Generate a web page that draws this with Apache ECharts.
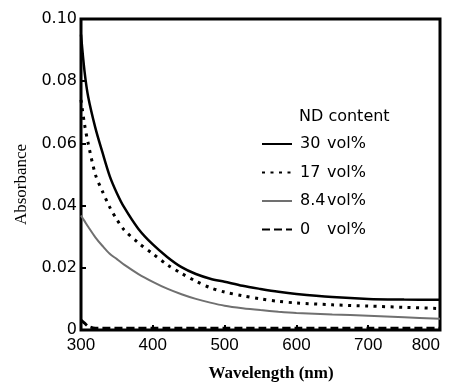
<!DOCTYPE html>
<html>
<head>
<meta charset="utf-8">
<script src="https://cdn.jsdelivr.net/npm/echarts@6/dist/echarts.min.js"></script>
<style>
  html, body { margin: 0; padding: 0; background: #fff; }
  #main { width: 449px; height: 387px; }
</style>
</head>
<body>
<div id="main"></div>
<script>
// wavelength (nm) sample points, shared by all curves
const wavelength = [300, 305, 310, 320, 330, 340, 350, 360, 380, 400, 420, 440, 460, 480, 500, 525, 550, 575, 600, 650, 700, 750, 800];

// absorbance
const nd30 = [0.095, 0.083, 0.075, 0.065, 0.057, 0.0495, 0.044, 0.0395, 0.0325, 0.0275, 0.0235, 0.0202, 0.018, 0.0165, 0.0155, 0.0142, 0.0132, 0.0123, 0.0116, 0.0106, 0.01, 0.0098, 0.0097];
const nd17 = [0.074, 0.066, 0.06, 0.05, 0.0445, 0.0395, 0.0355, 0.0322, 0.028, 0.0245, 0.021, 0.0182, 0.0157, 0.0136, 0.0122, 0.011, 0.01, 0.0092, 0.0087, 0.0081, 0.0077, 0.0073, 0.0069];
const nd84 = [0.0368, 0.035, 0.0332, 0.0298, 0.027, 0.0245, 0.0228, 0.021, 0.018, 0.0155, 0.0133, 0.0115, 0.01, 0.0088, 0.0078, 0.007, 0.0064, 0.0059, 0.0055, 0.005, 0.0046, 0.0041, 0.0036];
const nd0 = [0.0032, 0.0022, 0.0012, 0.0006, 0.0006, 0.0006, 0.0006, 0.0006, 0.0006, 0.0006, 0.0006, 0.0006, 0.0006, 0.0006, 0.0006, 0.0006, 0.0006, 0.0006, 0.0006, 0.0006, 0.0006, 0.0006, 0.0006];

const seriesNames = ["30 vol%", "17 vol%", "8.4vol%", "0   vol%"];
const legendNum = ["30", "17", "8.4", "0"];
const xTicks = [300, 400, 500, 600, 700, 800];

const pairs = (ys) => wavelength.map((x, i) => [x, ys[i]]);

const myChart = echarts.init(document.getElementById("main"));

const mkSeries = (name, ys, color, width, type) => ({
   name: name,
   type: "line",
   smooth: 0.3,
   symbol: "none",
   lineStyle: { color: color, width: width, type: type },
   itemStyle: { color: color },
   data: pairs(ys),
});

const option = {
   animation: false,
   backgroundColor: "#fff",
   grid: {
      left: 81,
      right: 9,
      top: 19,
      bottom: 47,
      show: true,
      borderColor: "#000",
      borderWidth: 3,
   },
   xAxis: {
      type: "value",
      min: 300,
      max: 800,
      interval: 100,
      name: "Wavelength (nm)",
      nameLocation: "middle",
      nameGap: 35,
      nameTextStyle: {
         fontFamily: "Liberation Serif",
         fontWeight: "bold",
         fontSize: 17,
         color: "#000",
         padding: [0, 0, 0, 21],
      },
      axisLine: { show: false },
      axisTick: { show: true, inside: true, length: 5, lineStyle: { color: "#000", width: 2 } },
      splitLine: { show: false },
      axisLabel: {
         margin: 7,
         color: "#000",
         fontFamily: "Liberation Sans",
         fontSize: 17,
         alignMaxLabel: "right",
         formatter: (v) => (xTicks.includes(v) ? String(v) : ""),
      },
   },
   yAxis: {
      type: "value",
      min: 0,
      max: 0.1,
      interval: 0.02,
      name: "Absorbance",
      nameLocation: "middle",
      nameGap: 45,
      nameTextStyle: {
         fontFamily: "Liberation Serif",
         fontSize: 17,
         color: "#000",
         padding: [0, 20, 0, 0],
      },
      axisLine: { show: false },
      axisTick: { show: true, inside: true, length: 5, lineStyle: { color: "#000", width: 2 } },
      splitLine: { show: false },
      axisLabel: {
         margin: 4,
         color: "#000",
         fontFamily: "DejaVu Sans",
         fontSize: 16,
         formatter: (v) => (v === 0 ? "0" : v.toFixed(2)),
      },
   },
   legend: {
      orient: "vertical",
      left: 261,
      top: 136,
      padding: 0,
      itemWidth: 30,
      itemHeight: 14,
      itemGap: 12.5,
      selectedMode: false,
      itemStyle: { opacity: 0 },
      data: seriesNames,
      formatter: (name) => {
         const i = seriesNames.indexOf(name);
         return "{g|}{n|" + legendNum[i] + "}{v|vol%}";
      },
      textStyle: {
         color: "#000",
         fontFamily: "DejaVu Sans",
         fontSize: 16,
         rich: {
            g: { width: 3 },
            n: { width: 27, fontFamily: "DejaVu Sans", fontSize: 16, lineHeight: 14 },
            v: { fontFamily: "DejaVu Sans", fontSize: 16, lineHeight: 14 },
         },
      },
   },
   graphic: [
      {
         type: "text",
         left: 299,
         top: 109,
         style: {
            text: "ND content",
            fill: "#000",
            font: "16px 'DejaVu Sans'",
         },
      },
   ],
   series: [
      mkSeries(seriesNames[0], nd30, "#000", 2.5, "solid"),
      mkSeries(seriesNames[1], nd17, "#000", 3, [3, 5.5]),
      mkSeries(seriesNames[2], nd84, "#707070", 2, "solid"),
      mkSeries(seriesNames[3], nd0, "#000", 3, [8, 4]),
   ],
};

option && myChart.setOption(option);
</script>
</body>
</html>
